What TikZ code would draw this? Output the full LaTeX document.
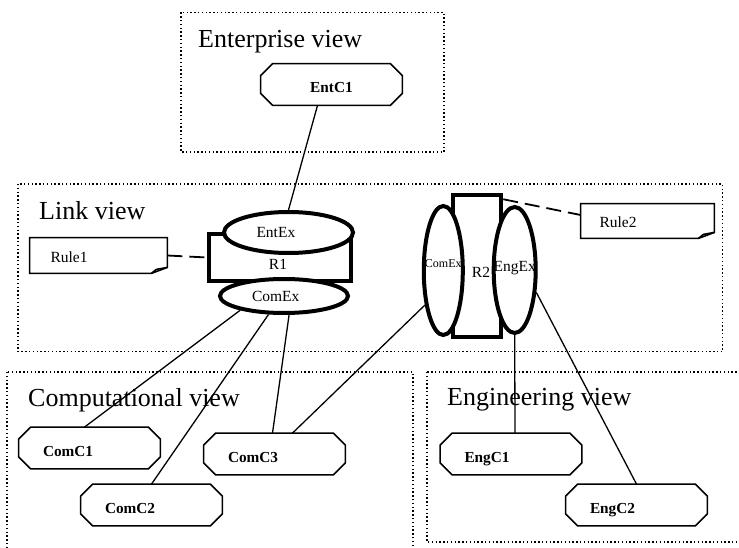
\documentclass[tikz,border=0pt]{standalone}
\usepackage{fontspec}
\setmainfont{Liberation Serif}
\usepackage{tikz}
\usetikzlibrary{shapes.geometric}

% rule note: box with the bottom right corner folded
\newcommand{\drawnote}[1]{%
	\draw[notepen] (#1.south west) -- (#1.north west) -- (#1.north east)
		-- ([yshift=6pt]#1.south east) -- ([xshift=-16pt]#1.south east) -- cycle;
	\draw[notepen] ([xshift=-16pt]#1.south east) -- ([xshift=-11pt,yshift=4pt]#1.south east)
		-- ([yshift=6pt]#1.south east);
}
% component: octagon round the node
\newcommand{\drawcomp}[1]{%
	\draw[comppen] ([xshift=12pt]#1.north west) -- ([xshift=-12pt]#1.north east)
		-- ([yshift=-12pt]#1.north east) -- ([yshift=12pt]#1.south east)
		-- ([xshift=-12pt]#1.south east) -- ([xshift=12pt]#1.south west)
		-- ([yshift=12pt]#1.south west) -- ([yshift=-12pt]#1.north west) -- cycle;
}

\begin{document}
\begin{tikzpicture}[x=1pt,y=-1pt,
	viewbox/.style={draw,line width=1.4pt,dash pattern=on 1.4pt off 2.4pt},
	viewname/.style={anchor=base west,inner sep=0pt,font=\fontsize{26}{30}\selectfont},
	compbox/.style={rectangle,minimum width=141.4pt,minimum height=41.4pt,inner xsep=0pt,
		text height=16pt,text depth=0pt,font=\fontsize{15.3}{18}\bfseries},
	comppen/.style={line width=1.6pt,line join=miter},
	lefttext/.style={text width=93pt,align=left},
	exell/.style={draw,line width=4pt,fill=white,ellipse,inner sep=0pt,
		font=\fontsize{15.5}{18}\selectfont},
	relbox/.style={draw,line width=4pt,fill=white,rectangle,inner sep=0pt},
	notepen/.style={line width=1.6pt},
	notebox/.style={inner sep=0pt,text width=96pt,align=left,
		text height=14pt,text depth=0pt,font=\fontsize{15.5}{18}\selectfont},
	conn/.style={line width=1.3pt},
	dashconn/.style={line width=1.8pt,dash pattern=on 15pt off 7pt}]
	\useasboundingbox (0,0) rectangle (739,548);
	\clip (0,0) rectangle (739,548);
	%\draw[gray,step=20] (0,0) grid (739,548);

	% the four views
	\draw[viewbox] (181,12.5) rectangle (444,152);
	\draw[viewbox] (18,184) rectangle (722.5,351.5);
	\draw[viewbox] (7,372) rectangle (413,560);
	\draw[viewbox] (427,372) rectangle (750,542);
	\node[viewname] (entname) at (198,48) {Enterprise view};
	\node[viewname] (linkname) at (39,220) {Link view};
	\node[viewname] (compname) at (28,406) {Computational view};
	\node[viewname] (engname) at (447,405) {Engineering view};

	% components
	\node[compbox] (entc1) at (331.5,84.5) {EntC1};
	\node[compbox,lefttext] (comc1) at (89.5,448) {ComC1};
	\node[compbox,lefttext] (comc2) at (151.5,505) {ComC2};
	\node[compbox,lefttext] (comc3) at (274.5,454) {ComC3};
	\node[compbox,lefttext] (engc1) at (511,454) {EngC1};
	\node[compbox,lefttext] (engc2) at (636.5,505) {EngC2};
	\drawcomp{entc1}
	\drawcomp{comc1}
	\drawcomp{comc2}
	\drawcomp{comc3}
	\drawcomp{engc1}
	\drawcomp{engc2}

	% R1 with its two end points
	\node[relbox,minimum width=141.5pt,minimum height=47pt] (r1box) at (279.75,257.5) {};
	\node[font=\fontsize{15.5}{18}\selectfont] (r1name) at (278,264) {R1};
	\node[exell,minimum width=129pt,minimum height=41pt,text width=64pt,align=left] (entex) at (288.5,232.5) {EntEx};
	\node[exell,minimum width=128pt,minimum height=34pt,text width=64pt,align=left] (r1com) at (284,296) {ComEx};

	% R2 with its two end points
	\node[relbox,minimum width=48.5pt,minimum height=141.5pt] (r2box) at (477,266) {};
	\node[font=\fontsize{15.5}{18}\selectfont] (r2name) at (481,272) {R2};
	\node[exell,minimum width=39pt,minimum height=129pt,text depth=14pt,font=\fontsize{12}{14}\selectfont] (r2com) at (443.3,270.5) {\makebox[0pt]{ComEx}};
	\node[exell,minimum width=42pt,minimum height=126pt,text depth=7pt] (engex) at (514.7,270) {\makebox[0pt]{EngEx}};

	% rules
	\node[notebox,minimum width=137.4pt,minimum height=35.4pt] (rule1) at (98.5,255.5) {Rule1};
	\drawnote{rule1}
	\node[notebox,minimum width=133.4pt,minimum height=34.4pt] (rule2) at (647.5,221) {Rule2};
	\drawnote{rule2}

	\draw[dashconn] (rule1.east) -- (r1box.west);
	\draw[dashconn] ([yshift=-6pt]r2box.north east) -- ([yshift=6pt]rule2.west);

	\draw[conn] ([xshift=-14pt]entc1.south) -- (entex.north);
	\draw[conn] (r1com.198) -- ([xshift=-5pt]comc1.north);
	\draw[conn] (r1com.230) -- (comc2.north);
	\draw[conn] (r1com.285) -- ([xshift=-2pt]comc3.north);
	\draw[conn] (r2com.242) -- ([xshift=18pt]comc3.north);
	\draw[conn] (engex.south) -- ([xshift=4pt]engc1.north);
	\draw[conn] (engex.314) -- (engc2.north);

\end{tikzpicture}
\end{document}
